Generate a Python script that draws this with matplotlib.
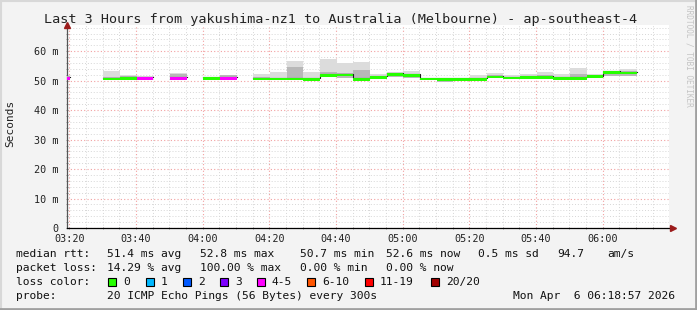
import numpy as np
import matplotlib
matplotlib.use('Agg')
import matplotlib.pyplot as plt
from matplotlib.lines import Line2D
from matplotlib.patches import Rectangle

W, H = 697, 310
MONO = 'DejaVu Sans Mono'

# 5 minute slots, start time in minutes after 03:00
slot_start = [15.2 + 5 * k for k in range(35)]
nan = np.nan
# median rtt (ms) per slot, nan = no answer (20/20 lost)
median = [50.9, nan, nan, 50.6, 50.9, 50.8, nan, 50.9, nan, 50.9,
          50.9, nan, 50.6, 50.6, 50.6, 50.4, 51.9, 52.0, 50.5, 51.1,
          52.2, 51.8, 50.6, 50.5, 50.5, 50.4, 51.3, 51.0, 51.2, 51.2,
          50.8, 50.8, 51.4, 52.8, 52.6]
# lost pings out of 20
loss = [4, 20, 20, 0, 0, 4, 20, 4, 20, 0,
        4, 20, 0, 0, 0, 0, 0, 0, 0, 0,
        0, 0, 0, 0, 0, 0, 0, 0, 0, 0,
        0, 0, 0, 0, 0]
# smoke: full ping spread and the denser inner part
smoke_lo = [50.5, nan, nan, 50.3, 50.5, 50.5, nan, 50.5, nan, 50.6,
            50.5, nan, 50.2, 50.2, 50.2, 50.0, 51.4, 50.8, 50.2, 50.7,
            51.2, 51.0, 50.2, 49.6, 49.8, 50.1, 50.8, 50.5, 50.6, 50.7,
            50.3, 50.3, 50.8, 51.5, 51.6]
smoke_hi = [51.9, nan, nan, 53.3, 51.9, 51.5, nan, 52.7, nan, 51.3,
            52.0, nan, 52.4, 53.0, 56.8, 53.0, 57.4, 55.9, 56.4, 52.1,
            53.0, 53.4, 51.0, 51.0, 51.0, 51.9, 52.7, 52.0, 52.2, 53.0,
            52.2, 54.4, 52.2, 53.4, 53.9]
inner_hi = [51.5, nan, nan, 51.3, 51.5, 51.2, nan, 52.2, nan, 51.1,
            51.8, nan, 51.2, 51.0, 54.7, 51.0, 53.0, 52.6, 53.6, 51.6,
            52.6, 52.3, 50.9, 50.9, 50.9, 51.0, 51.8, 51.4, 51.7, 51.8,
            51.3, 52.2, 51.7, 52.9, 53.3]

y_ticks = [0, 10, 20, 30, 40, 50, 60]
y_labels = ['0', '10 m', '20 m', '30 m', '40 m', '50 m', '60 m']
x_ticks = [20, 40, 60, 80, 100, 120, 140, 160, 180]
x_labels = ['03:20', '03:40', '04:00', '04:20', '04:40', '05:00', '05:20', '05:40', '06:00']

loss_names = ['0', '1', '2', '3', '4-5', '6-10', '11-19', '20/20']
loss_colors = ['#26ff00', '#00b8ff', '#0059ff', '#7e00ff', '#ff00ff', '#ff5500', '#ff0000', '#a10000']


def loss_color(n):
    if n == 0:
        return loss_colors[0]
    if n <= 3:
        return loss_colors[n]
    if n <= 5:
        return loss_colors[4]
    if n <= 10:
        return loss_colors[5]
    if n <= 19:
        return loss_colors[6]
    return loss_colors[7]


fig = plt.figure(figsize=(W / 100, H / 100), dpi=100, facecolor='#f3f3f3')

# rrdtool style frame
fig.add_artist(Line2D([0, 1], [1 - 1 / H, 1 - 1 / H], color='#d8d8d8', lw=1.5))
fig.add_artist(Line2D([1 / W, 1 / W], [0, 1], color='#d8d8d8', lw=1.5))
fig.add_artist(Line2D([0, 1], [1 / H, 1 / H], color='#a0a0a0', lw=2))
fig.add_artist(Line2D([1 - 1 / W, 1 - 1 / W], [0, 1], color='#a0a0a0', lw=2))

ax = fig.add_axes([67 / W, (H - 228) / H, (669 - 67) / W, (228 - 25) / H])
ax.set_facecolor('white')
ax.set_xlim(19.31, 199.9)
ax.set_ylim(0, 68.9)

# grid
ax.set_xticks(x_ticks)
ax.set_xticks(np.arange(20, 200, 5), minor=True)
ax.set_yticks(y_ticks)
ax.set_yticks(np.arange(0, 69, 2), minor=True)
ax.grid(which='minor', color='#d6d6d6', ls=(0, (1, 2)), lw=0.7)
ax.grid(which='major', color='#f2a0a0', ls=(0, (1, 2)), lw=0.8)
ax.set_axisbelow(True)
ax.set_xticklabels(x_labels, fontfamily=MONO, fontsize=7.3, color='#222222')
ax.set_yticklabels(y_labels, fontfamily=MONO, fontsize=7.3, color='#222222')
ax.tick_params(which='both', length=2, width=0.6, direction='inout', color='#888888')
ax.tick_params(axis='x', pad=3)
ax.tick_params(axis='y', pad=5)

for s in ['top', 'right']:
    ax.spines[s].set_visible(False)
ax.spines['left'].set_color('#555555')
ax.spines['bottom'].set_color('#000000')
ax.spines['left'].set_linewidth(0.9)
ax.spines['bottom'].set_linewidth(0.9)
ax.plot(1.006, 0, marker='>', ms=5, color='#9b1b1b', transform=ax.transAxes, clip_on=False, zorder=10)
ax.plot(0, 1.0, marker='^', ms=5, color='#9b1b1b', transform=ax.transAxes, clip_on=False, zorder=10)

# smoke
for i, t in enumerate(slot_start):
    if np.isnan(median[i]):
        continue
    ax.bar(t, smoke_hi[i] - smoke_lo[i], width=5, bottom=smoke_lo[i], align='edge',
           color='#dcdcdc', lw=0, zorder=2)
    ax.bar(t, inner_hi[i] - smoke_lo[i], width=5, bottom=smoke_lo[i], align='edge',
           color='#b8b8b8', lw=0, zorder=3)

# median line
edges = slot_start + [slot_start[-1] + 5]
vals = [m + 0.35 for m in median]
ax.step(edges, vals + [vals[-1]], where='post', color='#202020', lw=0.8, zorder=4)
for i, t in enumerate(slot_start):
    if np.isnan(median[i]):
        continue
    ax.bar(t, 0.9, width=5, bottom=median[i] - 0.5, align='edge',
           color=loss_color(loss[i]), lw=0, zorder=5)

ax.set_ylabel('')
fig.text(10 / W, 1 - 123 / H, 'Seconds', rotation=90, fontfamily=MONO, fontsize=8,
         ha='center', va='center', color='#222222')

fig.text(341 / W, 1 - 19 / H,
         'Last 3 Hours from yakushima-nz1 to Australia (Melbourne) - ap-southeast-4',
         fontfamily=MONO, fontsize=9.7, ha='center', va='center', color='#222222')

fig.text(689 / W, 1 - 5 / H, 'RRDTOOL / TOBI OETIKER', rotation=270, fontfamily=MONO,
         fontsize=5.6, ha='center', va='top', color='#c4c4c4')


def row(y, pieces):
    for x, s in pieces:
        fig.text(x / W, 1 - y / H, s, fontfamily=MONO, fontsize=8.1, ha='left',
                 va='center', color='#111111')


row(254, [(16, 'median rtt:'), (107, '51.4 ms avg'), (200, '52.8 ms max'),
          (300, '50.7 ms min'), (386, '52.6 ms now'), (478, '0.5 ms sd'),
          (557, '94.7'), (607, 'am/s')])
row(268, [(16, 'packet loss:'), (107, '14.29 % avg'), (200, '100.00 % max'),
          (300, '0.00 % min'), (386, '0.00 % now')])
row(296, [(16, 'probe:'), (107, '20 ICMP Echo Pings (56 Bytes) every 300s'),
          (513, 'Mon Apr  6 06:18:57 2026')])

box_x = [108, 146, 183, 220, 257, 307, 365, 431]
row(282, [(16, 'loss color:')])
for bx, name, c in zip(box_x, loss_names, loss_colors):
    fig.add_artist(Rectangle((bx / W, 1 - 286 / H), 8 / W, 8 / H, facecolor=c,
                             edgecolor='black', lw=0.8))
    row(282, [(bx + 15, name)])

fig.savefig('out.png', dpi=100, facecolor=fig.get_facecolor())
